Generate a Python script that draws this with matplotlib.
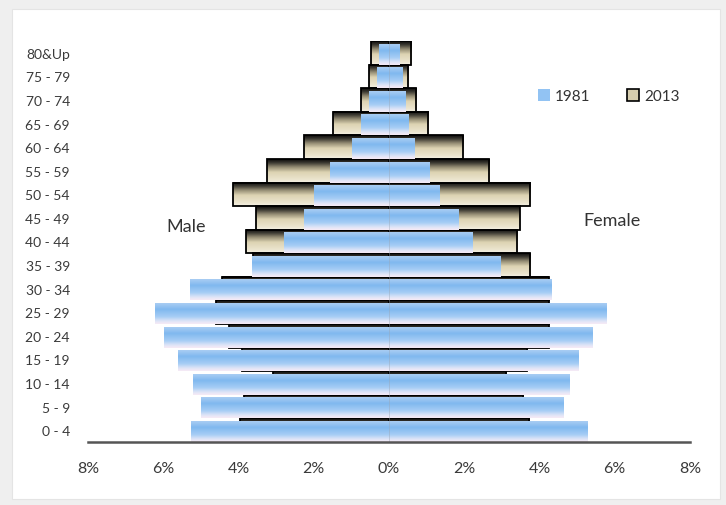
import matplotlib
matplotlib.use('Agg')
import matplotlib.pyplot as plt
import numpy as np
from matplotlib.colors import LinearSegmentedColormap
from matplotlib.patches import Patch, Rectangle
from matplotlib.ticker import FuncFormatter

plt.rcParams['font.family'] = ['Lato', 'DejaVu Sans']

# 年龄组与人口占比 (%)
ages = ['0 - 4', '5 - 9', '10 - 14', '15 - 19', '20 - 24', '25 - 29', '30 - 34',
        '35 - 39', '40 - 44', '45 - 49', '50 - 54', '55 - 59', '60 - 64',
        '65 - 69', '70 - 74', '75 - 79', '80&Up']
male_1981 = [5.25, 5.0, 5.2, 5.6, 5.98, 6.23, 5.3, 3.64, 2.8, 2.25, 2.0, 1.57, 0.99, 0.75, 0.53, 0.32, 0.27]
male_2013 = [3.97, 3.85, 3.07, 3.9, 4.24, 4.6, 4.44, 3.62, 3.8, 3.54, 4.14, 3.24, 2.27, 1.49, 0.75, 0.53, 0.48]
female_1981 = [5.28, 4.64, 4.8, 5.04, 5.4, 5.77, 4.31, 2.97, 2.21, 1.85, 1.33, 1.07, 0.67, 0.53, 0.43, 0.35, 0.27]
female_2013 = [3.73, 3.57, 3.12, 3.68, 4.24, 4.24, 4.24, 3.76, 3.41, 3.47, 3.76, 2.67, 1.97, 1.04, 0.72, 0.51, 0.59]

# 渐变色
cm_2013 = LinearSegmentedColormap.from_list('c2013', [
    (0.0, '#0a0a0a'), (0.15, '#3c3a32'), (0.35, '#9a9278'), (0.55, '#ddd3b3'),
    (0.85, '#ebe4cd'), (1.0, '#f4f0e4')])
cm_1981 = LinearSegmentedColormap.from_list('c1981', [
    (0.0, '#a9cdf3'), (0.3, '#80b8ef'), (0.65, '#a6cdf5'), (0.88, '#e2e6f7'),
    (1.0, '#f6eaf5')])
grad = np.linspace(0, 1, 64).reshape(-1, 1)

fig = plt.figure(figsize=(7.26, 5.06), dpi=100, facecolor='#efefef')
# 白色底板
bg = fig.add_axes([0, 0, 1, 1], zorder=-10)
bg.set_axis_off()
bg.set_xlim(0, 726)
bg.set_ylim(0, 506)
bg.add_patch(Rectangle((12, 6), 708, 490, facecolor='white',
                       edgecolor='#e4e4e4', linewidth=0.8))

ax = fig.add_axes([88 / 726, 63 / 506, 602 / 726, 401 / 506])
ax.set_facecolor('none')

y = np.arange(len(ages))


def paint(bars, cmap, z):
    for p in bars:
        x0 = p.get_x()
        x1 = x0 + p.get_width()
        y0 = p.get_y()
        y1 = y0 + p.get_height()
        ax.imshow(grad, cmap=cmap, aspect='auto', origin='upper',
                  extent=[min(x0, x1), max(x0, x1), y0, y1], zorder=z,
                  interpolation='bilinear')


# 2013 背景条
for vals, sign in [(male_2013, -1), (female_2013, 1)]:
    b = ax.barh(y - 0.5, sign * np.array(vals), height=1.0, align='edge',
                color='none', edgecolor='black', linewidth=1.3, zorder=2)
    paint(b, cm_2013, 1)

# 1981 前景条
for vals, sign in [(male_1981, -1), (female_1981, 1)]:
    b = ax.barh(y - 0.5, sign * np.array(vals), height=0.89, align='edge',
                color='none', linewidth=0, zorder=3)
    paint(b, cm_1981, 3)

ax.axvline(0, color='#9aa6b4', linewidth=0.5, alpha=0.6, zorder=4)

ax.set_xlim(-8, 8)
ax.set_ylim(-0.5, 16.5)
ax.set_xticks([-8, -6, -4, -2, 0, 2, 4, 6, 8])
ax.xaxis.set_major_formatter(FuncFormatter(lambda v, _: f'{abs(v):.0f}%'))
ax.set_yticks(y)
ax.set_yticklabels(ages)
ax.tick_params(axis='x', length=0, pad=14, labelsize=11.5, labelcolor='#3a3a3a')
ax.tick_params(axis='y', length=0, pad=13, labelsize=10, labelcolor='#3a3a3a')
for s in ['top', 'right', 'left']:
    ax.spines[s].set_visible(False)
ax.spines['bottom'].set_color('#555555')
ax.spines['bottom'].set_linewidth(1.8)
ax.spines['bottom'].set_zorder(5)

ax.text(-5.4, 8.64, 'Male', fontsize=13, color='#333333', ha='center', va='center')
ax.text(5.92, 8.9, 'Female', fontsize=13, color='#333333', ha='center', va='center')

handles = [Patch(facecolor='#92c3f3', edgecolor='none'),
           Patch(facecolor='#d6cdae', edgecolor='black', linewidth=1.2)]
ax.legend(handles, ['1981', '2013'], ncol=2, frameon=False, loc='center',
          bbox_to_anchor=(0.865, 0.863), fontsize=11, handlelength=0.8,
          handleheight=0.8, handletextpad=0.3, columnspacing=2.4,
          labelcolor='#333333')

plt.savefig('out.png', dpi=100, facecolor=fig.get_facecolor())
